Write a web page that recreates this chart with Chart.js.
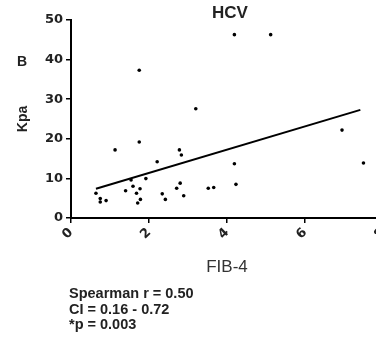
<!DOCTYPE html>
<html>
<head>
<meta charset="utf-8">
<script src="https://cdn.jsdelivr.net/npm/chart.js@4.4.1/dist/chart.umd.min.js"></script>
<style>
  body { margin: 0; overflow: hidden; background: #fff; font-family: "Liberation Sans", Arial, sans-serif; }
  #wrap { position: absolute; left: 0; top: 0; width: 396px; height: 338px; }
  .lbl { position: absolute; color: #222; font-weight: bold; white-space: nowrap; }
</style>
</head>
<body>
<div id="wrap"><canvas id="chart"></canvas></div>
<div class="lbl" style="left:212px; top:3px; font-size:17px;">HCV</div>
<div class="lbl" style="left:17px; top:53px; font-size:14px;">B</div>
<div class="lbl" style="left:69px; top:286px; font-size:14.5px; line-height:15.5px;">
  Spearman r = 0.50<br>CI = 0.16 - 0.72<br>*p = 0.003
</div>
<script>
// FIB-4 vs Kpa, one point per patient
const fib4 = [0.64, 0.75, 0.75, 0.90, 1.13, 1.40, 1.54, 1.59, 1.68, 1.75, 1.75, 1.77, 1.71, 1.78, 1.92, 2.21,
              2.34, 2.42, 2.71, 2.80, 2.78, 2.83, 2.89, 3.20, 3.52, 3.66, 4.19, 5.12, 4.19, 4.23, 6.95, 7.50];
const kpa  = [6.25, 4.9, 4.05, 4.4, 17.2, 6.9, 9.6, 8.0, 6.25, 37.3, 19.2, 7.4, 3.8, 4.7, 9.95, 14.2,
              6.1, 4.7, 7.5, 8.8, 17.2, 15.9, 5.6, 27.6, 7.5, 7.7, 46.3, 46.3, 13.7, 8.5, 22.2, 13.9];

// regression line end points
const fitX = [0.64, 7.42];
const fitY = [7.4, 27.3];

const xTicks = [0, 2, 4, 6, 8];
const yTicks = [0, 10, 20, 30, 40, 50];

var points = fib4.map(function (x, i) { return { x: x, y: kpa[i] }; });
var fitLine = fitX.map(function (x, i) { return { x: x, y: fitY[i] }; });

var tickFont = { family: "DejaVu Sans", size: 13, weight: 'bold' };

new Chart(document.getElementById('chart'), {
  type: 'scatter',
  data: {
    datasets: [{
      data: points,
      pointRadius: 1.8,
      pointBackgroundColor: '#000',
      pointBorderWidth: 0
    }, {
      type: 'line',
      data: fitLine,
      borderColor: '#000',
      borderWidth: 2,
      pointRadius: 0,
      fill: false
    }]
  },
  options: {
    responsive: true,
    maintainAspectRatio: false,
    animation: false,
    layout: { padding: { left: 15, top: 20, right: 0, bottom: 60 } },
    plugins: { legend: { display: false }, tooltip: { enabled: false } },
    scales: {
      x: {
        type: 'linear',
        min: xTicks[0],
        max: xTicks[xTicks.length - 1],
        afterBuildTicks: function (s) { s.ticks = xTicks.map(function (v) { return { value: v }; }); },
        afterFit: function (s) { s.height = 60; },
        border: { color: '#000', width: 2 },
        grid: { drawOnChartArea: false, color: '#000', lineWidth: 1.5, tickLength: 5 },
        ticks: { color: '#222', font: tickFont, minRotation: 45, maxRotation: 45, padding: 2 },
        title: { display: true, text: 'FIB-4', color: '#333', font: { family: "Liberation Sans", size: 17 }, padding: 0 }
      },
      y: {
        min: yTicks[0],
        max: yTicks[yTicks.length - 1],
        afterBuildTicks: function (s) { s.ticks = yTicks.map(function (v) { return { value: v }; }); },
        afterFit: function (s) { s.width = 56; },
        border: { color: '#000', width: 2 },
        grid: { drawOnChartArea: false, color: '#000', lineWidth: 1.5, tickLength: 5 },
        ticks: { color: '#222', font: tickFont, padding: 3 },
        title: { display: true, text: 'Kpa', color: '#222', font: { family: "Liberation Sans", size: 14, weight: 'bold' }, padding: 0 }
      }
    }
  }
});
</script>
</body>
</html>
